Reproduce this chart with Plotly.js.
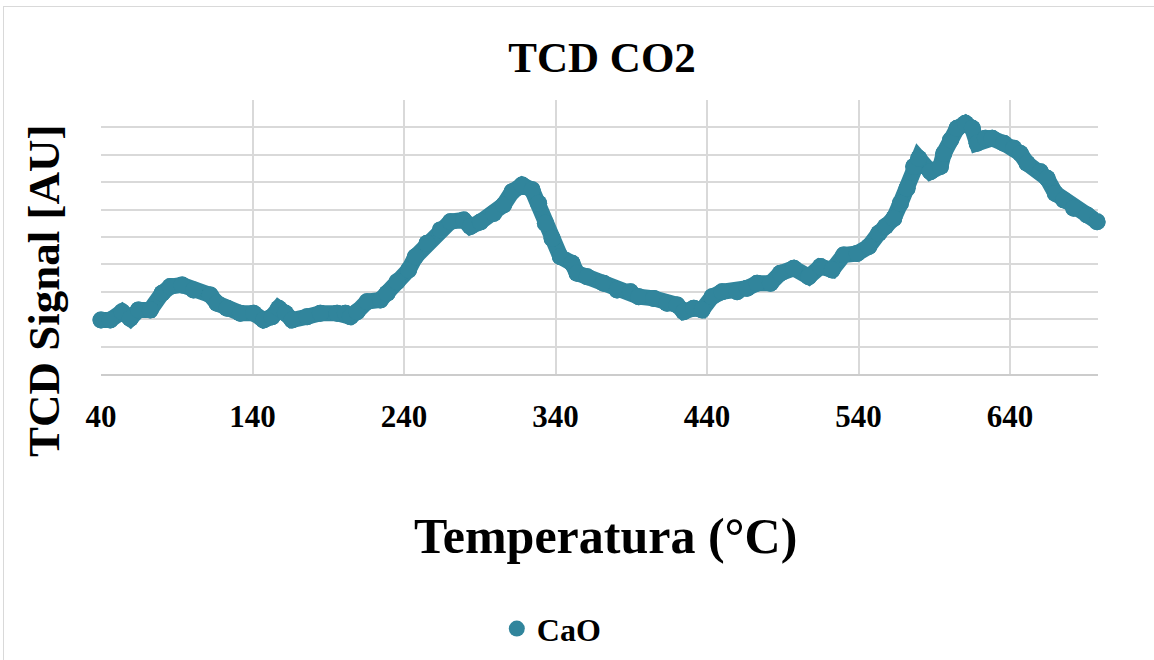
<!DOCTYPE html>
<html>
<head>
<meta charset="utf-8">
<script src="https://cdn.plot.ly/plotly-3.0.1.min.js"></script>
<style>
  html, body { margin: 0; padding: 0; background: #ffffff; }
  #frame { position: absolute; left: 3px; top: 6px; width: 1300px; height: 800px;
           border-left: 1px solid #d9d9d9; border-top: 1px solid #d9d9d9; }
  #chart { position: absolute; left: 0; top: 0; width: 1154px; height: 660px; }
</style>
</head>
<body>
<div id="frame"></div>
<div id="chart"></div>
<script>
// Temperature (°C)
const temperature = [
  40, 46.1, 53.9, 59.3, 64.8, 72.5, 80.3, 85.7, 93.5, 101.1,
  112.1, 116.6, 123.2, 131.9, 140.7, 147.3, 152.9, 157.2, 161.7, 166.1,
  176.0, 184.8, 195.8, 201.3, 204.6, 209.0, 215.6, 224.4, 228.8, 235.4,
  243.0, 247.5, 255.2, 264.0, 270.6, 279.3, 283.8, 290.4, 299.1, 305.7,
  311.3, 317.9, 324.5, 328.8, 333.3, 337.7, 343.2, 350.9, 354.2, 360.8,
  371.7, 380.6, 389.4, 394.9, 404.8, 413.6, 420.2, 424.6, 431.2, 436.7,
  443.3, 449.9, 459.8, 466.4, 473.0, 481.8, 488.4, 497.2, 507.1, 514.8,
  522.5, 530.2, 539.0, 546.7, 553.3, 557.7, 563.2, 567.6, 572.0, 576.4,
  579.7, 587.4, 594.0, 596.2, 600.7, 605.0, 610.5, 615.0, 618.2, 623.7,
  628.1, 635.8, 642.4, 646.8, 651.2, 660.0, 664.4, 669.9, 675.4, 682.0,
  690.8, 697.4
];
// TCD signal (arbitrary units)
const tcdCaO = [
  1.97, 1.97, 2.27, 2.03, 2.34, 2.34, 2.95, 3.19, 3.25, 3.07,
  2.88, 2.58, 2.40, 2.22, 2.22, 1.97, 2.09, 2.40, 2.22, 1.97,
  2.09, 2.22, 2.22, 2.22, 2.09, 2.27, 2.64, 2.70, 2.95, 3.37,
  3.80, 4.28, 4.77, 5.26, 5.56, 5.62, 5.38, 5.55, 5.86, 6.17,
  6.65, 6.90, 6.72, 6.23, 5.50, 4.95, 4.28, 4.04, 3.68, 3.55,
  3.31, 3.07, 3.00, 2.82, 2.76, 2.58, 2.52, 2.27, 2.40, 2.34,
  2.82, 3.00, 3.00, 3.13, 3.31, 3.31, 3.68, 3.86, 3.55, 3.92,
  3.80, 4.34, 4.40, 4.65, 5.14, 5.38, 5.68, 6.23, 6.78, 7.57,
  7.87, 7.38, 7.57, 8.05, 8.54, 8.97, 9.15, 8.97, 8.42, 8.60,
  8.60, 8.42, 8.24, 8.05, 7.69, 7.38, 7.14, 6.59, 6.35, 6.05,
  5.80, 5.56
];
const xTicks = [40, 140, 240, 340, 440, 540, 640];
const seriesName = 'CaO';
const chartTitle = 'TCD CO2';
const xTitle = 'Temperatura (°C)';
const yTitle = 'TCD Signal [AU]';

const teal = '#31859C';
const serif = 'Liberation Serif, Times New Roman, serif';

const traces = [
  {
    x: temperature, y: tcdCaO, type: 'scatter', mode: 'lines+markers',
    line: { color: teal, width: 16 },
    marker: { color: teal, size: 17 },
    cliponaxis: false, showlegend: false, hoverinfo: 'x+y'
  },
  {
    x: temperature, y: tcdCaO, type: 'scatter', mode: 'markers',
    name: seriesName,
    marker: { color: teal, size: 17 },
    cliponaxis: false, showlegend: true, hoverinfo: 'skip'
  }
];

const layout = {
  width: 1154, height: 660,
  paper_bgcolor: 'rgba(0,0,0,0)', plot_bgcolor: 'rgba(0,0,0,0)',
  margin: { l: 101, r: 56, t: 100, b: 286, pad: 0, autoexpand: false },
  title: {
    text: chartTitle, x: 580 / 1154, xanchor: 'center', xref: 'paper',
    y: 1 - 57 / 660, yanchor: 'middle', yref: 'container',
    font: { family: serif, size: 43, weight: 'bold', color: '#000' }
  },
  xaxis: {
    range: [40, 698], tickvals: xTicks, ticktext: xTicks.map(String),
    showgrid: true, gridcolor: '#d9d9d9', gridwidth: 1.5,
    showline: true, linecolor: '#cccccc', linewidth: 1.5,
    zeroline: false, ticks: '', ticklabelstandoff: 14, automargin: false,
    tickfont: { family: serif, size: 31, weight: 'bold', color: '#000' },
    title: { text: '' }
  },
  yaxis: {
    range: [0, 10], dtick: 1, tick0: 0,
    showgrid: true, gridcolor: '#d9d9d9', gridwidth: 1.5,
    showline: false, zeroline: false, showticklabels: false, ticks: '',
    automargin: false,
    title: { text: '' }
  },
  legend: {
    orientation: 'h', x: 0.397, xanchor: 'left', y: -0.93, yanchor: 'middle',
    font: { family: serif, size: 32, weight: 'bold', color: '#000' },
    bgcolor: 'rgba(0,0,0,0)', itemwidth: 30
  },
  annotations: [
    {
      text: xTitle, xref: 'paper', yref: 'paper',
      x: (605 - 101) / 997, y: (374 - 536) / 274, xanchor: 'center', yanchor: 'middle',
      showarrow: false,
      font: { family: serif, size: 50, weight: 'bold', color: '#000' }
    },
    {
      text: yTitle, xref: 'paper', yref: 'paper', textangle: -90,
      x: (44 - 101) / 997, y: (374 - 291) / 274, xanchor: 'center', yanchor: 'middle',
      showarrow: false,
      font: { family: serif, size: 45, weight: 'bold', color: '#000' }
    }
  ],
  showlegend: true
};

Plotly.newPlot('chart', traces, layout, { displayModeBar: false, responsive: false });
</script>
</body>
</html>
